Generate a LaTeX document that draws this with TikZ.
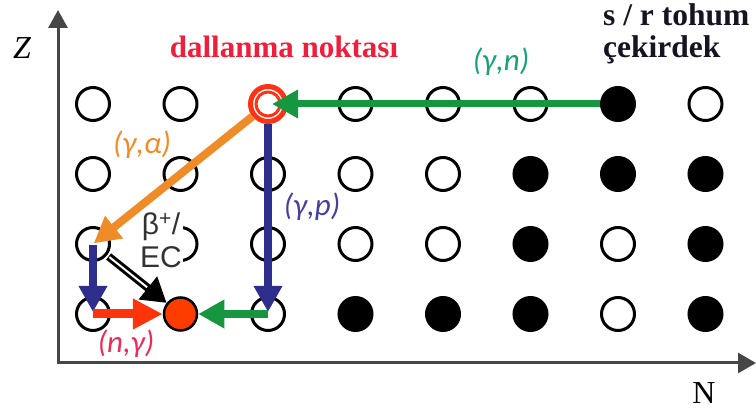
\documentclass[tikz,border=0pt]{standalone}
\usepackage{fontspec}
\setmainfont{Liberation Serif}
\newfontfamily\carl{Carlito}
\newfontfamily\lsans{Liberation Sans}
\usetikzlibrary{arrows.meta}
\definecolor{grn}{RGB}{22,150,62}
\definecolor{tealc}{RGB}{24,160,120}
\definecolor{orng}{RGB}{240,140,40}
\definecolor{blu}{RGB}{46,46,140}
\definecolor{blul}{RGB}{70,62,160}
\definecolor{rarr}{RGB}{255,52,10}
\definecolor{ringred}{RGB}{255,50,20}
\definecolor{xred}{RGB}{255,60,0}
\definecolor{titred}{RGB}{238,30,60}
\definecolor{ngam}{RGB}{232,45,90}
\definecolor{axisc}{RGB}{70,70,70}
\definecolor{betac}{RGB}{50,50,50}
\definecolor{seedc}{RGB}{20,20,35}
\tikzset{
  nuc/.style={circle, draw=black, line width=3pt, minimum size=33pt, inner sep=0pt, fill=white},
  opennuc/.style={nuc},
  fullnuc/.style={nuc, fill=black},
  branchnuc/.style={circle, draw=ringred, line width=5pt, minimum size=35pt, inner sep=0pt, fill=white},
  xnuc/.style={circle, draw=black, line width=2.5pt, minimum size=33pt, inner sep=0pt, fill=xred},
  axisline/.style={draw=axisc, line width=3pt, line join=miter},
  tipA/.style={-{Triangle[length=26pt,width=27pt]}},
  garr/.style={draw=grn, fill=grn, line width=7pt, tipA},
  gbarr/.style={draw=grn, fill=grn, line width=8pt, tipA},
  oarr/.style={draw=orng, fill=orng, line width=8pt, tipA},
  barr/.style={draw=blu, fill=blu, line width=8pt, tipA},
  rarrow/.style={draw=rarr, fill=rarr, line width=9pt, -{Triangle[length=30pt,width=29pt]}},
  karr/.style={draw=black, line width=8pt, -{Triangle[length=24pt,width=28pt]}},
  lab/.style={font=\carl\itshape\fontsize{31}{33}\selectfont, inner sep=0pt},
}
\begin{document}
\begin{tikzpicture}[x=1pt,y=-1pt]
\useasboundingbox (0,0) rectangle (756,414);
% axes
\coordinate (ztop) at (58,10);
\coordinate (O) at (58,363);
\coordinate (nend) at (756,363);
\draw[axisline, {Triangle[length=18pt,width=19pt]}-{Triangle[length=18pt,width=20pt]}] (ztop) -- (O) -- (nend);
\node[font=\itshape\fontsize{32}{34}\selectfont, inner sep=0pt] (zlab) at (22,48) {Z};
\node[font=\fontsize{32}{34}\selectfont, inner sep=0pt] (nlab) at (704,393) {N};
% nuclei
\foreach \c/\r in {1/1,2/1,4/1,5/1,6/1,8/1,1/2,2/2,3/2,4/2,5/2,1/3,2/3,3/3,4/3,5/3,7/3,1/4,3/4,7/4}
  \node[opennuc] (n\c\r) at ({93+87.5*(\c-1)},{104+70*(\r-1)}) {};
\foreach \c/\r in {7/1,6/2,7/2,8/2,6/3,8/3,4/4,5/4,6/4,8/4}
  \node[fullnuc] (n\c\r) at ({93+87.5*(\c-1)},{104+70*(\r-1)}) {};
\node[branchnuc] (R) at (268,104) {};
\draw[ringred, line width=3pt] (R.center) circle[radius=12pt];
\node[xnuc] (X) at (180.5,314) {};
% beta label box
\node[fill=white, text=betac, font=\lsans\fontsize{30}{33}\selectfont, align=center, inner sep=1pt] (beta) at (161,240) {β\textsuperscript{+}/\\EC};
% arrows
\draw[garr, shorten >=4pt] (n71) -- (R.center);
\draw[oarr, shorten >=1pt] (R) -- (n13.center);
\draw[barr, shorten >=2pt] (R) -- (n34.center);
\draw[barr, shorten >=2pt, shorten <=1pt] (n13.center) -- (n14.center);
\draw[rarrow] (n14.center) -- (X);
\draw[gbarr] (n34.center) -- (X);
\draw[karr, shorten <=2pt] (n13) -- (X);
\draw[white, line width=2pt, shorten >=25pt, shorten <=3pt] (n13) -- (X);
% labels
\node[font=\bfseries\fontsize{31}{32}\selectfont, text=titred, anchor=base, inner sep=0pt] (title) at (284,58) {dallanma noktası};
\node[font=\bfseries\fontsize{31.5}{32}\selectfont, text=seedc, anchor=north west, align=left, inner sep=0pt] (seed) at (603,3.5) {s / r tohum\\çekirdek};
\node[lab, text=tealc] (gn) at (501,62) {(γ,n)};
\node[lab, text=orng] (ga) at (142,145) {(γ,α)};
\node[lab, text=blul] (gp) at (312,207) {(γ,p)};
\node[lab, text=ngam] (ng) at (126,344) {(n,γ)};
\end{tikzpicture}
\end{document}
